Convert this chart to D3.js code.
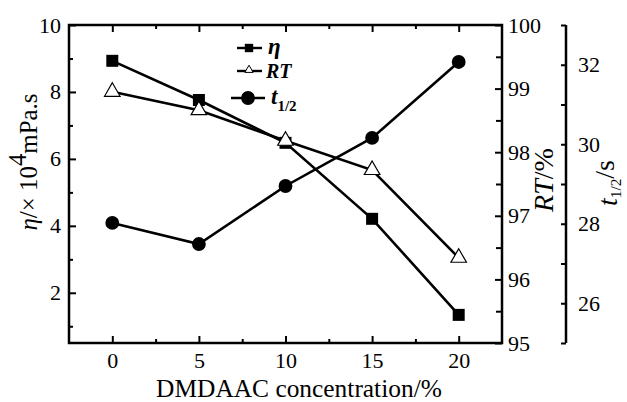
<!DOCTYPE html>
<html><head><meta charset="utf-8">
<script src="https://cdn.jsdelivr.net/npm/d3@7"></script>
<style>
body{margin:0;background:#fff;}
svg{display:block;font-family:"Liberation Serif","Times New Roman",serif;}
svg text{font-family:"Liberation Serif","Times New Roman",serif !important;fill:#000;}
</style></head>
<body>
<svg id="c" width="627" height="402"></svg>
<script>
const concentration = [0, 5, 10, 15, 20];
const eta = [8.93, 7.76, 6.48, 4.21, 1.34];
const rt = [98.95, 98.66, 98.18, 97.72, 96.34];
const t12 = [28.02, 27.49, 28.95, 30.16, 32.07];
const xTicks = [0, 5, 10, 15, 20];
const etaTicks = [2, 4, 6, 8, 10];
const rtTicks = [95, 96, 97, 98, 99, 100];
const tTicks = [26, 28, 30, 32];

const FONT = "Liberation Serif";
const svg = d3.select("#c");
const L = 69, R = 502, T = 25, B = 343, R2 = 566;
const x = d3.scaleLinear().domain([-2.5, 22.5]).range([L, R]);
const yL = d3.scaleLinear().domain([0.5, 10]).range([B, T]);
const yR = d3.scaleLinear().domain([95, 100]).range([B, T]);
const yT = d3.scaleLinear().domain([25, 33]).range([B, T]);

const fs = 22;
function styleAxis(g){
  g.attr("font-family", FONT);
  g.select(".domain").remove();
  g.selectAll("line").attr("stroke","#000").attr("stroke-width",2);
  g.selectAll("text").style("font-size",fs+"px").style("font-family",FONT);
}
const xMinor = [2.5,7.5,12.5,17.5];
svg.append("g").attr("transform",`translate(0,${B})`)
  .call(d3.axisBottom(x).tickValues(xMinor).tickSize(-4).tickFormat(""))
  .call(styleAxis);
svg.append("g").attr("transform",`translate(0,${T})`)
  .call(d3.axisTop(x).tickValues(xMinor).tickSize(-4).tickFormat(""))
  .call(styleAxis);
svg.append("g").attr("transform",`translate(0,${B})`)
  .call(d3.axisBottom(x).tickValues(xTicks).tickSize(-7).tickPadding(9).tickFormat(d3.format("d")))
  .call(styleAxis);
svg.append("g").attr("transform",`translate(0,${T})`)
  .call(d3.axisTop(x).tickValues(xTicks).tickSize(-7).tickFormat(""))
  .call(styleAxis);

svg.append("g").attr("transform",`translate(${L},0)`)
  .call(d3.axisLeft(yL).tickValues([1,3,5,7,9]).tickSize(-4).tickFormat(""))
  .call(styleAxis);
svg.append("g").attr("transform",`translate(${L},0)`)
  .call(d3.axisLeft(yL).tickValues(etaTicks).tickSize(-7).tickPadding(8).tickFormat(d3.format("d")))
  .call(styleAxis);

svg.append("g").attr("transform",`translate(${R},0)`)
  .call(d3.axisRight(yR).tickValues([95.5,96.5,97.5,98.5,99.5]).tickSize(-6).tickFormat(""))
  .call(styleAxis);
svg.append("g").attr("transform",`translate(${R},0)`)
  .call(d3.axisRight(yR).tickValues(rtTicks).tickSize(-7).tickPadding(6).tickFormat(d3.format("d")))
  .call(styleAxis);

svg.append("g").attr("transform",`translate(${R2},0)`)
  .call(d3.axisRight(yT).tickValues([25,27,29,31,33]).tickSize(-5).tickFormat(""))
  .call(styleAxis);
svg.append("g").attr("transform",`translate(${R2},0)`)
  .call(d3.axisRight(yT).tickValues(tTicks).tickSize(-5).tickPadding(12).tickFormat(d3.format("d")))
  .call(styleAxis);

svg.append("rect").attr("x",L).attr("y",T).attr("width",R-L).attr("height",B-T)
  .attr("fill","none").attr("stroke","#000").attr("stroke-width",2.5);
svg.append("line").attr("x1",R2).attr("x2",R2).attr("y1",T).attr("y2",B)
  .attr("stroke","#000").attr("stroke-width",2.5);

const lw = 2.6;
function line(ys, yscale){
  svg.append("path").datum(concentration.map((c,i)=>[c, ys[i]]))
    .attr("fill","none").attr("stroke","#000").attr("stroke-width",lw)
    .attr("d", d3.line().x(d=>x(d[0])).y(d=>yscale(d[1])));
}
line(eta, yL); line(rt, yR); line(t12, yT);

const sq = d3.symbol().type(d3.symbolSquare).size(144);
const tri = d3.symbol().type(d3.symbolTriangle).size(105);
const circ = d3.symbol().type(d3.symbolCircle).size(150);

svg.selectAll(".sq").data(concentration).enter().append("path")
  .attr("d", sq).attr("transform",(c,i)=>`translate(${x(c)},${yL(eta[i])})`)
  .attr("fill","#000");
svg.selectAll(".tr").data(concentration).enter().append("path")
  .attr("d", tri).attr("transform",(c,i)=>`translate(${x(c)},${yR(rt[i])})`)
  .attr("fill","#fff").attr("stroke","#000").attr("stroke-width",1.2);
svg.selectAll(".ci").data(concentration).enter().append("path")
  .attr("d", circ).attr("transform",(c,i)=>`translate(${x(c)},${yT(t12[i])})`)
  .attr("fill","#000");

const lg = svg.append("g");
function lline(x1,x2,y){ lg.append("line").attr("x1",x1).attr("x2",x2).attr("y1",y).attr("y2",y).attr("stroke","#000").attr("stroke-width",2.4); }
lline(237,262,48);
lg.append("path").attr("d",d3.symbol().type(d3.symbolSquare).size(70)).attr("transform","translate(249,48)").attr("fill","#000");
lg.append("text").attr("x",268).attr("y",54).style("font-size","23px").style("font-style","italic").style("font-weight","bold").text("η");
lline(237,262,71);
lg.append("path").attr("d",d3.symbol().type(d3.symbolTriangle).size(30)).attr("transform","translate(249,70)").attr("fill","#fff").attr("stroke","#000").attr("stroke-width",1);
lg.append("text").attr("x",266).attr("y",78).style("font-size","20px").style("font-style","italic").style("font-weight","bold").text("RT");
lline(231,265,98);
lg.append("path").attr("d",circ).attr("transform","translate(248,98)").attr("fill","#000");
const tl = lg.append("text").attr("x",271).attr("y",104).style("font-size","23px").style("font-style","italic").style("font-weight","bold");
tl.append("tspan").text("t");
tl.append("tspan").attr("dy",7).style("font-size","15px").style("font-style","normal").text("1/2");

function fit(sel, base, target){
  sel.style("font-size", base+"px");
  const len = sel.node().getComputedTextLength();
  if (len > 0) sel.style("font-size", (base*target/len)+"px");
}

const xt = svg.append("text").attr("x",299).attr("y",397).attr("text-anchor","middle")
  .text("DMDAAC concentration/%");
fit(xt, 25, 286);

const lt = svg.append("text").attr("transform","translate(37,162) rotate(-90)").attr("text-anchor","middle");
lt.append("tspan").style("font-style","italic").text("η");
lt.append("tspan").text("/× 10");
lt.append("tspan").attr("dy","-0.45em").text("4");
lt.append("tspan").attr("dy","0.45em").text("mPa.s");
fit(lt, 22, 137);

const rtT = svg.append("text").attr("transform","translate(553,180) rotate(-90)").attr("text-anchor","middle");
rtT.append("tspan").style("font-style","italic").text("RT");
rtT.append("tspan").text("/%");
fit(rtT, 22, 64);

const tT = svg.append("text").attr("transform","translate(617,183) rotate(-90)").attr("text-anchor","middle");
tT.append("tspan").style("font-style","italic").text("t");
tT.append("tspan").attr("dy","0.23em").style("font-size","0.55em").text("1/2");
tT.append("tspan").attr("dy","-0.23em").text("/s");
fit(tT, 22, 46);
</script>
</body></html>
